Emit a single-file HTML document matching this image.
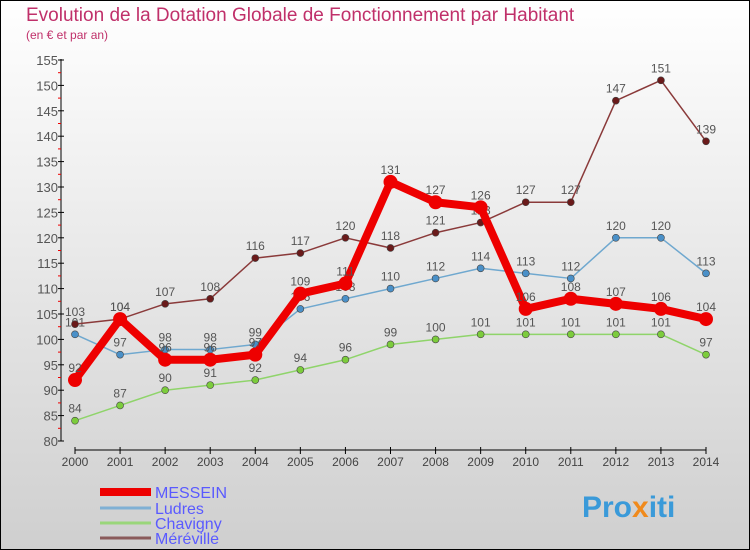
<!DOCTYPE html>
<html><head><meta charset="utf-8"><style>
body{margin:0}
svg{display:block;font-family:"Liberation Sans",sans-serif}
</style></head><body>
<svg id="c" width="750" height="550">
<defs><linearGradient id="bg" x1="0" y1="0" x2="0" y2="1"><stop offset="0" stop-color="#ffffff"/><stop offset="1" stop-color="#cfcfcf"/></linearGradient></defs>
<rect x="0.5" y="0.5" width="749" height="549" fill="url(#bg)" stroke="#000"/>
<text x="26" y="21" font-size="19" fill="#c0306a">Evolution de la Dotation Globale de Fonctionnement par Habitant</text>
<text x="26" y="39" font-size="12" fill="#c0306a">(en € et par an)</text>
<g id="axes"></g><g id="series"></g><g id="legend"></g>
<text x="582" y="517" font-size="30" font-weight="bold" fill="#3a9ad9">Pro<tspan fill="#f08a1c">x</tspan>iti</text>
</svg>
<script>
const years=[2000,2001,2002,2003,2004,2005,2006,2007,2008,2009,2010,2011,2012,2013,2014];
const yTicks=[80,85,90,95,100,105,110,115,120,125,130,135,140,145,150,155];
const seriesNames=["MESSEIN","Ludres","Chavigny","Méréville"];
const messein=[92,104,96,96,97,109,111,131,127,126,106,108,107,106,104];
const ludres=[101,97,98,98,99,106,108,110,112,114,113,112,120,120,113];
const chavigny=[84,87,90,91,92,94,96,99,100,101,101,101,101,101,97];
const mereville=[103,104,107,108,116,117,120,118,121,123,127,127,147,151,139];
const NS="http://www.w3.org/2000/svg";
function X(i){return 75+i*(706-75)/(years.length-1);}
function Y(v){return 441-(v-80)*(441-60)/75;}
function mk(t,a,p){const e=document.createElementNS(NS,t);for(const k in a)e.setAttribute(k,a[k]);p.appendChild(e);return e;}
const ax=document.getElementById('axes');
let l=mk('line',{x1:61,y1:59,x2:61,y2:441,stroke:'#000'},ax);


yTicks.forEach((v,k)=>{
 mk('line',{x1:58,y1:Y(v),x2:64,y2:Y(v),stroke:'#000'},ax);
 if(k<yTicks.length-1) mk('line',{x1:58,y1:Y(v+2.5),x2:61,y2:Y(v+2.5),stroke:'#e00'},ax);
 const t=mk('text',{x:58,y:Y(v)+5,'text-anchor':'end','font-size':13,fill:'#555'},ax);
 t.textContent=v;
 
 
});
l=mk('line',{x1:75,y1:450,x2:706,y2:450,stroke:'#000'},ax);


years.forEach((y,i)=>{
 mk('line',{x1:X(i),y1:447,x2:X(i),y2:454,stroke:'#000'},ax);
 const t=mk('text',{x:X(i),y:466,'text-anchor':'middle','font-size':12,fill:'#444'},ax);
 t.textContent=y;
 
 
});
const sg=document.getElementById('series');
const defs=[[chavigny,'#8fd46a','#7ccc3c',1.5,3.5,'chavigny'],[ludres,'#6fa8cf','#4a90c8',1.5,3.5,'ludres'],[mereville,'#8a3a3a','#6a1a1a',1.5,3.5,'mereville'],[messein,'#ee0000','#ee0000',8,7,'messein']];
defs.forEach(([d,lc,pc,w,r,n])=>{
 const g=mk('g',{},sg);
 
 
 const p=mk('polyline',{points:d.map((v,i)=>X(i)+','+Y(v)).join(' '),fill:'none',stroke:lc,'stroke-width':w,'stroke-linejoin':'round'},g);
 
 
 d.forEach((v,i)=>{
  const c=mk('circle',{cx:X(i),cy:Y(v),r:r,fill:pc,stroke:n==='messein'?'none':'#444','stroke-width':0.6},g);
  
  
  const t=mk('text',{x:X(i),y:Y(v)-8,'text-anchor':'middle','font-size':12,fill:'#555'},g);
  t.textContent=v;
  
  
 });
});
const lg=document.getElementById('legend');
const lcol=['#ee0000','#7fb0d4','#9ad67a','#8a5a5a'],lw=[8,3,3,3],ly=[492,508,523,538];
seriesNames.forEach((s,i)=>{
 const g=mk('g',{},lg);
 
 
 mk('line',{x1:100,y1:ly[i],x2:151,y2:ly[i],stroke:lcol[i],'stroke-width':lw[i]},g);
 const t=mk('text',{x:155,y:ly[i]+6,'font-size':16,fill:'#5a5aff'},g);
 t.textContent=s;
});
</script>
</body></html>
